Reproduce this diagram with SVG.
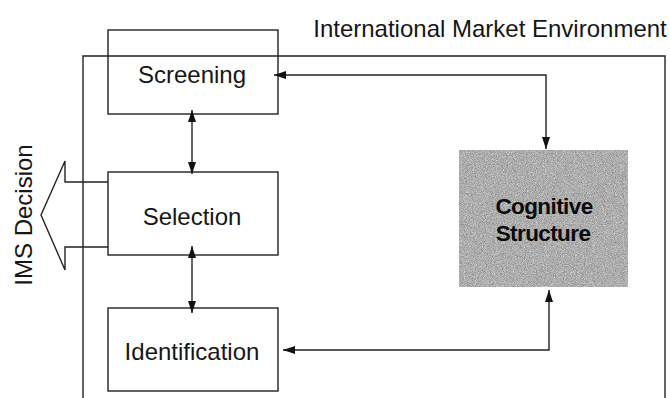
<svg xmlns="http://www.w3.org/2000/svg" width="670" height="398" viewBox="0 0 670 398">
  <style>
    .box { fill: none; stroke: #222; stroke-width: 1.4; }
    .frame { fill: none; stroke: #222; stroke-width: 1.4; }
    .link { fill: none; stroke: #222; stroke-width: 1.4; }
    .label { font-family: "Liberation Sans", Arial, sans-serif; font-size: 24px; fill: #161616; text-anchor: middle; }
    .bold { font-weight: bold; font-size: 22.5px; letter-spacing: -0.6px; fill: #0a0a0a; }
  </style>
  <defs>
    <marker id="head" viewBox="0 0 12 8" refX="12" refY="4" markerWidth="12" markerHeight="8" markerUnits="userSpaceOnUse" orient="auto-start-reverse">
      <path d="M0,0 L12,4 L0,8 Z" fill="#111"/>
    </marker>
    <!-- speckled grey fill for the shaded block -->
    <filter id="grain" x="0" y="0" width="1" height="1" color-interpolation-filters="sRGB">
      <feTurbulence type="fractalNoise" baseFrequency="1.1" numOctaves="2" seed="7" result="n"/>
      <feColorMatrix in="n" type="matrix" values="0.33 0.33 0.33 0 0  0.33 0.33 0.33 0 0  0.33 0.33 0.33 0 0  0 0 0 0 1"/>
      <feComponentTransfer>
        <feFuncR type="linear" slope="0.85" intercept="0.26"/>
        <feFuncG type="linear" slope="0.85" intercept="0.26"/>
        <feFuncB type="linear" slope="0.85" intercept="0.26"/>
      </feComponentTransfer>
      <feComposite in2="SourceGraphic" operator="in"/>
    </filter>
  </defs>

  <!-- environment frame and its caption -->
  <g id="environment">
    <path class="frame" d="M83,400 L83,56 L665,56 L665,400"/>
    <text class="label" x="490" y="37">International Market Environment</text>
  </g>

  <!-- outgoing decision arrow -->
  <g id="ims-decision">
    <path class="frame" d="M108,182 L65,182 L65,161 L41,215 L65,270 L65,247 L108,247"/>
    <text class="label" transform="translate(32,215) rotate(-90)">IMS Decision</text>
  </g>

  <g id="screening">
    <rect class="box" x="108" y="30" width="170" height="84"/>
    <text class="label" x="192" y="83">Screening</text>
  </g>

  <g id="selection">
    <rect class="box" x="108" y="172" width="170" height="83"/>
    <text class="label" x="192" y="225">Selection</text>
  </g>

  <g id="identification">
    <rect class="box" x="108" y="308" width="170" height="83"/>
    <text class="label" x="192" y="360">Identification</text>
  </g>

  <g id="cognitive-structure">
    <rect x="459" y="150" width="169" height="137" fill="#aaaaaa" filter="url(#grain)"/>
    <text class="label bold" x="544" y="214">Cognitive</text>
    <text class="label bold" x="543" y="241">Structure</text>
  </g>

  <g id="connectors">
    <path class="link" d="M192,110 L192,174" marker-start="url(#head)" marker-end="url(#head)"/>
    <path class="link" d="M192,246 L192,313" marker-start="url(#head)" marker-end="url(#head)"/>
    <path class="link" d="M274,75 L546,75 L546,149" marker-start="url(#head)" marker-end="url(#head)"/>
    <path class="link" d="M283,350 L549,350 L549,290" marker-start="url(#head)" marker-end="url(#head)"/>
  </g>
</svg>
